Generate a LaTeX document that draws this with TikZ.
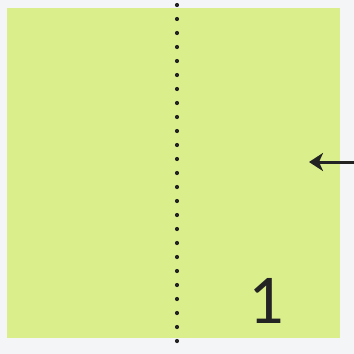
\documentclass[tikz,border=0pt]{standalone}
\usepackage{fontspec}
\newfontfamily\numfont{Carlito}
\definecolor{paper}{RGB}{218,238,140}
\definecolor{bg}{RGB}{244,245,246}
\definecolor{ink}{RGB}{35,35,35}
\usetikzlibrary{arrows.meta}
\tikzset{
  foldline/.style={line width=4.2pt, line cap=round, dash pattern=on 0pt off 14pt, ink},
  pusharrow/.style={line width=3pt, ink, -{Stealth[length=14pt,width=18pt,inset=4pt]}},
}
\begin{document}
\begin{tikzpicture}[x=1pt,y=-1pt]
\useasboundingbox (0,0) rectangle (354,354);
\fill[bg] (0,0) rectangle (354,354);
\fill[paper] (7,8) rectangle (340,338);
\coordinate (ftop) at (177,5);
\coordinate (fbot) at (177,354);
\draw[foldline] (ftop) -- (fbot);
\coordinate (astart) at (356,162);
\coordinate (aend) at (309,162);
\draw[pusharrow] (astart) -- (aend);
\node[ink, font=\numfont\fontsize{70}{70}\selectfont, inner sep=0pt] (num) at (266,301) {1};
\end{tikzpicture}
\end{document}
